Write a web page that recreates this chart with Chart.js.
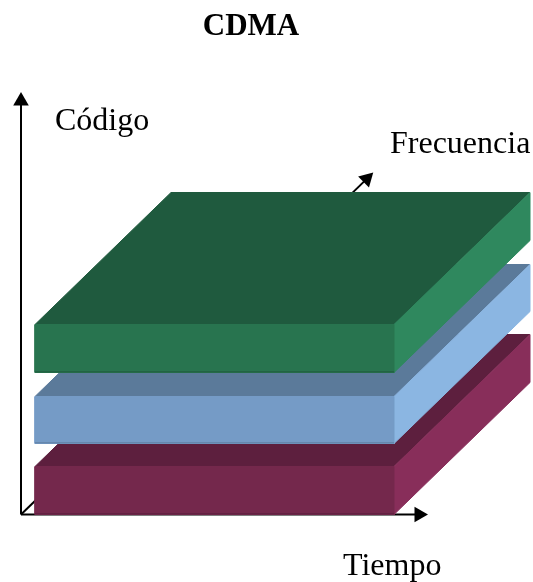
<!DOCTYPE html>
<html>
<head>
<meta charset="utf-8">
<script src="https://cdn.jsdelivr.net/npm/chart.js@4/dist/chart.umd.min.js"></script>
<style>
  html, body { margin: 0; padding: 0; background: #ffffff; }
  canvas { display: block; }
</style>
</head>
<body>
<canvas id="cdma" width="533" height="582" style="width:533px;height:582px"></canvas>
<script>
// Code layers (bottom to top) sharing the same time span and frequency band
const capas = ['Usuario 1', 'Usuario 2', 'Usuario 3'];
const codigoBase = [0, 71, 142];      // code level where each layer starts
const codigoGrosor = [48, 47, 48];    // extent of each layer on the code axis
const tiempoInicio = [14, 14, 14];
const tiempoFin = [373, 373, 373];
const frecuenciaInicio = [0, 0, 0];
const frecuenciaFin = [1, 1, 1];

// Axes: time, code, frequency and how far each one reaches
const ejes = ['Tiempo', 'Código', 'Frecuencia'];
const ejeLongitud = [407, 422.5, 2.59];
const titulo = 'CDMA';

// Oblique projection: one unit of frequency moves right and up
const PROF = { x: 136, y: 132 };
const PROF_LEN = Math.hypot(PROF.x, PROF.y);
const proj = (t, f, c) => ({ x: t + f * PROF.x, y: c + f * PROF.y });

const colores = [
  { frente: '#74284C', techo: '#5D1F3E', lado: '#882E5A', borde: '#622142' },
  { frente: '#759BC6', techo: '#5B7A9A', lado: '#8BB6E2', borde: '#6687AD' },
  { frente: '#28744F', techo: '#1F5A3E', lado: '#2F885E', borde: '#226343' }
];

const HEAD_R = 9; // arrowhead size in px

// Face of a slab as a closed filled line
function cara(label, pts, color) {
  return {
    label,
    data: [...pts, pts[0]],
    borderColor: color,
    backgroundColor: color,
    borderWidth: 1,
    fill: 'shape',
    pointRadius: 0,
    tension: 0
  };
}

// Thin shaded edge along the bottom of a front face
function borde(label, a, b, color) {
  return {
    label,
    data: [a, b],
    borderColor: color,
    borderWidth: 1.5,
    fill: false,
    pointRadius: 0,
    tension: 0
  };
}

// Axis line ending in a triangular arrowhead
function eje(label, desde, hasta, rotacion) {
  return {
    label,
    data: [desde, hasta],
    borderColor: '#000000',
    borderWidth: 2,
    fill: false,
    tension: 0,
    pointRadius: [0, HEAD_R],
    pointStyle: 'triangle',
    rotation: rotacion,
    pointBackgroundColor: '#000000',
    pointBorderColor: '#000000',
    pointBorderWidth: 0
  };
}

const pintura = [];

// Frequency axis sits behind the layers
const fLen = ejeLongitud[2] - HEAD_R / PROF_LEN;
pintura.push(eje(ejes[2], proj(0, 0, 0), proj(0, fLen, 0),
  Math.atan2(PROF.x, PROF.y) * 180 / Math.PI));
// Time and code axes
pintura.push(eje(ejes[0], proj(0, 0, 0), proj(ejeLongitud[0] - HEAD_R, 0, 0), 90));
pintura.push(eje(ejes[1], proj(0, 0, 0), proj(0, 0, ejeLongitud[1] - HEAD_R), 0));

capas.forEach((nombre, i) => {
  const t0 = tiempoInicio[i], t1 = tiempoFin[i];
  const f0 = frecuenciaInicio[i], f1 = frecuenciaFin[i];
  const c0 = codigoBase[i], c1 = codigoBase[i] + codigoGrosor[i];
  const col = colores[i];
  pintura.push(cara(nombre + ' techo',
    [proj(t0, f0, c1), proj(t1, f0, c1), proj(t1, f1, c1), proj(t0, f1, c1)], col.techo));
  pintura.push(cara(nombre + ' lado',
    [proj(t1, f0, c0), proj(t1, f1, c0), proj(t1, f1, c1), proj(t1, f0, c1)], col.lado));
  pintura.push(cara(nombre,
    [proj(t0, f0, c0), proj(t1, f0, c0), proj(t1, f0, c1), proj(t0, f0, c1)], col.frente));
  pintura.push(borde(nombre + ' borde',
    proj(t0, f0, c0 + 0.75), proj(t1, f0, c0 + 0.75), col.borde));
});

// Earlier entries are painted first (higher order goes underneath)
pintura.forEach((d, i) => { d.order = pintura.length - i; });

// Text anchors in chart units
const SERIF = '"Liberation Serif", "Times New Roman", serif';
const textos = [
  { texto: titulo, x: 230, y: 479.5, font: 'bold 31px ' + SERIF, align: 'center' },
  { texto: ejes[1], x: 34, y: 384.5, font: '32px ' + SERIF, align: 'left' },
  { texto: ejes[2], x: 369, y: 361.5, font: '32px ' + SERIF, align: 'left' },
  { texto: ejes[0], x: 322, y: -60.5, font: '32px ' + SERIF, align: 'left' }
];

const etiquetas = {
  id: 'etiquetas',
  afterDraw(chart) {
    const { ctx, scales } = chart;
    ctx.save();
    ctx.fillStyle = '#000000';
    ctx.textBaseline = 'alphabetic';
    textos.forEach(t => {
      ctx.font = t.font;
      ctx.textAlign = t.align;
      ctx.fillText(t.texto, scales.x.getPixelForValue(t.x), scales.y.getPixelForValue(t.y));
    });
    ctx.restore();
  }
};

new Chart(document.getElementById('cdma'), {
  type: 'line',
  data: { datasets: pintura },
  options: {
    responsive: false,
    animation: false,
    devicePixelRatio: 1,
    events: [],
    layout: { autoPadding: false, padding: 0 },
    plugins: { legend: { display: false }, tooltip: { enabled: false }, title: { display: false } },
    scales: {
      x: { type: 'linear', min: -21, max: 512, display: false },
      y: { type: 'linear', min: -67.5, max: 514.5, display: false }
    }
  },
  plugins: [etiquetas]
});
</script>
</body>
</html>
